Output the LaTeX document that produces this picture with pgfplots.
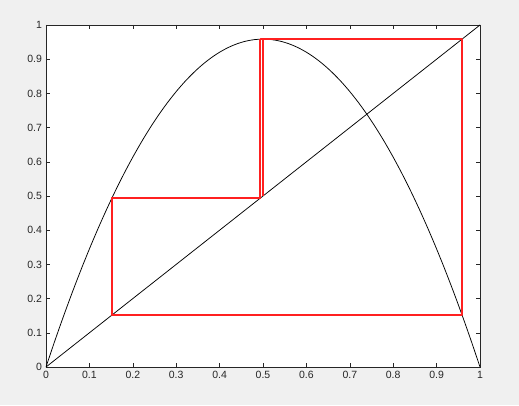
\documentclass[border=0pt]{standalone}
\usepackage{pgfplots}
\pgfplotsset{compat=1.18}
\usepackage{fontspec}
\setmainfont{Liberation Sans}
\definecolor{figbg}{HTML}{F0F0F0}
\definecolor{axcol}{HTML}{262626}
\definecolor{cobweb}{HTML}{FF2020}
\begin{document}
\begin{tikzpicture}
\fill[figbg] (-46pt,-38pt) rectangle (473pt,367pt);
\begin{axis}[
  scale only axis, width=434pt, height=342pt,
  xmin=0, xmax=1, ymin=0, ymax=1,
  xtick={0,0.1,...,1.01}, ytick={0,0.1,...,1.01},
  xticklabels={0,0.1,0.2,0.3,0.4,0.5,0.6,0.7,0.8,0.9,1},
  yticklabels={0,0.1,0.2,0.3,0.4,0.5,0.6,0.7,0.8,0.9,1},
  tick align=inside, major tick length=4.5pt,
  tick style={axcol, line width=0.6pt},
  axis line style={axcol, line width=0.7pt},
  axis background/.style={fill=white},
  /pgf/number format/assume math mode=true,
  tick label style={font=\fontsize{10.5}{12}\selectfont, text=axcol},
  xticklabel style={yshift=-1pt},
  yticklabel style={xshift=-0.5pt},
]
\addplot[black, line width=0.75pt, smooth] coordinates {
(0,0) (0.02,0.075166) (0.04,0.147264) (0.06,0.216294) (0.08,0.282256)
(0.10,0.34515) (0.12,0.404976) (0.14,0.461734) (0.16,0.515424) (0.18,0.566046)
(0.20,0.6136) (0.22,0.658086) (0.24,0.699504) (0.26,0.737854) (0.28,0.773136)
(0.30,0.80535) (0.32,0.834496) (0.34,0.860574) (0.36,0.883584) (0.38,0.903526)
(0.40,0.9204) (0.42,0.934206) (0.44,0.944944) (0.46,0.952614) (0.48,0.957216)
(0.50,0.95875)
(0.52,0.957216) (0.54,0.952614) (0.56,0.944944) (0.58,0.934206) (0.60,0.9204)
(0.62,0.903526) (0.64,0.883584) (0.66,0.860574) (0.68,0.834496) (0.70,0.80535)
(0.72,0.773136) (0.74,0.737854) (0.76,0.699504) (0.78,0.658086) (0.80,0.6136)
(0.82,0.566046) (0.84,0.515424) (0.86,0.461734) (0.88,0.404976) (0.90,0.34515)
(0.92,0.282256) (0.94,0.216294) (0.96,0.147264) (0.98,0.075166) (1,0)
};
\addplot[black, line width=0.75pt] coordinates {(0,0) (1,1)};
\addplot[cobweb, line width=1.3pt, line join=round] coordinates {
(0.5,0.5) (0.5,0.95875) (0.95875,0.95875) (0.95875,0.151667) (0.151667,0.151667)
(0.151667,0.493427) (0.493427,0.493427) (0.493427,0.958585) (0.958585,0.958585)
(0.958585,0.15225) (0.15225,0.15225) (0.15225,0.494983) (0.494983,0.494983)
(0.494983,0.958654) (0.958654,0.958654) (0.958654,0.152007) (0.152007,0.152007)
(0.152007,0.494335) (0.494335,0.494335) (0.494335,0.958627) (0.958627,0.958627)
};
\end{axis}
\end{tikzpicture}
\end{document}
